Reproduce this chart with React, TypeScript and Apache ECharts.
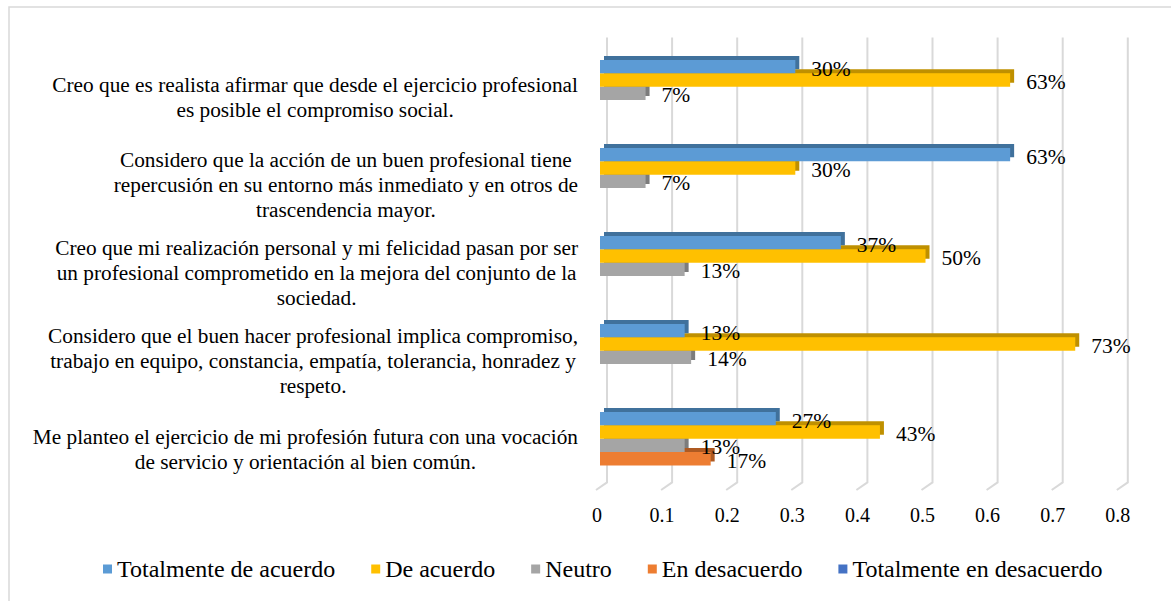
import React, { useEffect, useRef } from 'react';
import * as echarts from 'echarts';

const categories = [
  'Creo que es realista afirmar que desde el ejercicio profesional\nes posible el compromiso social.',
  'Considero que la acción de un buen profesional tiene\nrepercusión en su entorno más inmediato y en otros de\ntrascendencia mayor.',
  'Creo que mi realización personal y mi felicidad pasan por ser\nun profesional comprometido en la mejora del conjunto de la\nsociedad.',
  'Considero que el buen hacer profesional implica compromiso,\ntrabajo en equipo, constancia, empatía, tolerancia, honradez y\nrespeto.',
  'Me planteo el ejercicio de mi profesión futura con una vocación\nde servicio y orientación al bien común.',
];
const seriesNames = [
  'Totalmente de acuerdo',
  'De acuerdo',
  'Neutro',
  'En desacuerdo',
  'Totalmente en desacuerdo',
];
const totalmenteDeAcuerdo = [0.3, 0.63, 0.37, 0.13, 0.27];
const deAcuerdo = [0.63, 0.3, 0.5, 0.73, 0.43];
const neutro = [0.07, 0.07, 0.13, 0.14, 0.13];
const enDesacuerdo = [null, null, null, null, 0.17];
const totalmenteEnDesacuerdo = [null, null, null, null, null];
const xTicks = [0, 0.1, 0.2, 0.3, 0.4, 0.5, 0.6, 0.7, 0.8];

const frontColors = ['#5B9BD5', '#FFC000', '#A5A5A5', '#ED7D31', '#4472C4'];
const sideColors = ['#41719C', '#BF9000', '#7C7C7C', '#AE5A21', '#2F5597'];

const FONT = 'Liberation Serif';
const CAT_FONT_SIZE = 21.3;
const CAT_LINE_HEIGHT = 25;
const LABEL_RIGHT = 578;

export default function App() {
  const ref = useRef<HTMLDivElement>(null);

  useEffect(() => {
    if (!ref.current) return;
    const chart = echarts.init(ref.current, null, { renderer: 'svg' });
    const allSeries = [totalmenteDeAcuerdo, deAcuerdo, neutro, enDesacuerdo, totalmenteEnDesacuerdo];

    const option: any = {
      animation: false,
      backgroundColor: '#ffffff',
      textStyle: { fontFamily: FONT },
      grid: { left: 600, top: 49.4, width: 520.8, height: 440, containLabel: false },
      xAxis: {
        type: 'value',
        min: 0,
        max: 0.8,
        interval: 0.1,
        splitLine: { show: false },
        axisLine: { show: false },
        axisTick: { show: false },
        axisLabel: {
          margin: 16,
          fontSize: 20,
          fontFamily: FONT,
          color: '#000',
          padding: [0, 6, 0, 0],
        },
      },
      yAxis: {
        type: 'category',
        data: categories.map((_, i) => String(i)),
        inverse: true,
        axisLine: { show: false },
        axisTick: { show: false },
        axisLabel: { show: false },
        splitLine: { show: false },
      },
      legend: {
        data: seriesNames,
        left: 103,
        top: 557,
        padding: 0,
        itemWidth: 9,
        itemHeight: 9,
        itemGap: 36,
        icon: 'rect',
        itemStyle: { shadowBlur: 0, shadowOffsetX: 0, shadowOffsetY: 0, shadowColor: 'rgba(0,0,0,0)' },
        textStyle: { fontSize: 24, fontFamily: FONT, color: '#000' },
      },
      series: [
        {
          type: 'custom',
          name: 'grid3d',
          silent: true,
          clip: false,
          z: 1,
          data: xTicks.map((v) => [v, 0]),
          encode: { x: 0, y: 1 },
          renderItem: (params: any, api: any) => {
            const x = api.coord([api.value(0), 0])[0];
            const cs = params.coordSys;
            const bottom = cs.y + cs.height;
            return {
              type: 'polyline',
              shape: {
                points: [
                  [x + 7, cs.y - 12],
                  [x + 7, bottom - 7],
                  [x - 4, bottom + 0.6],
                ],
              },
              style: { stroke: '#D9D9D9', lineWidth: 2, fill: 'none' },
            };
          },
        },
        ...allSeries.map((data, i) => ({
          type: 'bar',
          name: seriesNames[i],
          data,
          z: 10 - i,
          barGap: '0%',
          barCategoryGap: '24%',
          itemStyle: {
            color: frontColors[i],
            shadowColor: sideColors[i],
            shadowBlur: 0,
            shadowOffsetX: 4,
            shadowOffsetY: -4,
          },
          label: {
            show: true,
            position: 'right',
            distance: 16,
            offset: [0, 2],
            fontSize: 21.5,
            fontFamily: FONT,
            color: '#000',
            formatter: (p: any) => Math.round(p.value * 100) + '%',
          },
        })),
      ],
    };
    chart.setOption(option);

    const ctx = document.createElement('canvas').getContext('2d')!;
    ctx.font = `${CAT_FONT_SIZE}px "Liberation Serif"`;
    const texts = categories.map((txt, i) => {
      const y = chart.convertToPixel({ yAxisIndex: 0 }, String(i)) as number;
      const w = Math.max(...txt.split('\n').map((l) => ctx.measureText(l).width));
      return {
        type: 'text',
        id: 'cat' + i,
        x: LABEL_RIGHT - w / 2,
        y: y + 4,
        style: {
          text: txt,
          fill: '#000',
          fontSize: CAT_FONT_SIZE,
          fontFamily: FONT,
          align: 'center',
          textAlign: 'center',
          verticalAlign: 'middle',
          textVerticalAlign: 'middle',
          lineHeight: CAT_LINE_HEIGHT,
        },
      };
    });

    chart.setOption({
      graphic: [
        {
          type: 'rect',
          id: 'border',
          shape: { x: 9, y: 7, width: 1300, height: 800 },
          style: { fill: 'none', stroke: '#D9D9D9', lineWidth: 1.5 },
          silent: true,
        },
        ...texts,
      ],
    });

    return () => chart.dispose();
  }, []);

  return (
    <div
      ref={ref}
      style={{ position: 'absolute', left: 0, top: 0, width: 1171, height: 601, background: '#fff' }}
    />
  );
}
